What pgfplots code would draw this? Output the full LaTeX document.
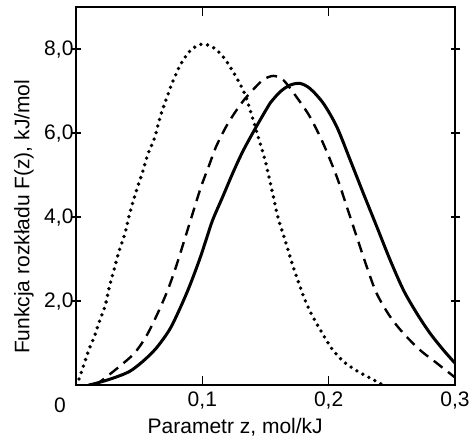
\documentclass[border=0pt]{standalone}
\usepackage{fontspec}
\setmainfont{Liberation Sans}
\usepackage{pgfplots}
\pgfplotsset{compat=1.18}
\begin{document}
\begin{tikzpicture}
\begin{axis}[
  scale only axis,
  width=189.5pt, height=189pt,
  xmin=0, xmax=0.3, ymin=0, ymax=9,
  axis line style={line width=0.7pt},
  xtick={0.1,0.2,0.3},
  ytick={2,4,6,8},
  xtick align=inside,
  ytick align=center,
  major tick length=4.5pt,
  tick style={line width=0.6pt,black},
  xticklabel style={/pgf/number format/.cd,fixed,fixed zerofill,precision=1,use comma},
  yticklabel style={xshift=4.5pt,/pgf/number format/.cd,fixed,fixed zerofill,precision=1,use comma},
  /pgf/number format/assume math mode=true,
  font=\fontsize{10.5pt}{12pt}\selectfont,
  xlabel={Parametr z, mol/kJ},
  ylabel={Funkcja rozkładu F(z), kJ/mol},
  xlabel style={at={(axis description cs:0.42,0)}, anchor=north, yshift=-13pt},
  ylabel style={at={(axis description cs:0,0.445)}, anchor=center, rotate=0, yshift=26pt},
  tick label style={font=\fontsize{10.5pt}{12pt}\selectfont},
]
\addplot[black, line width=1.5pt, smooth, tension=0.5] coordinates {
(0.01,0) (0.0158,0.04) (0.029,0.16) (0.0422,0.32) (0.0528,0.56) (0.0633,0.87)
(0.0739,1.31) (0.0818,1.79) (0.0897,2.34) (0.0977,2.98) (0.1029,3.45) (0.1082,3.93)
(0.1161,4.48) (0.124,5.04) (0.132,5.56) (0.1412,6.07) (0.1504,6.55) (0.1536,6.71)
(0.1615,6.98) (0.1694,7.14) (0.1773,7.18) (0.1852,7.06) (0.1957,6.71) (0.2064,6.15)
(0.217,5.36) (0.2275,4.56) (0.2381,3.77) (0.2486,2.98) (0.2592,2.26) (0.2697,1.71)
(0.2803,1.23) (0.2909,0.83) (0.3,0.52)
};
\addplot[black, line width=1.2pt, smooth, tension=0.5, dash pattern=on 5.5pt off 3.5pt] coordinates {
(0.015,0) (0.021,0.12) (0.0343,0.44) (0.046,0.75) (0.0554,1.15) (0.0647,1.71)
(0.0726,2.26) (0.0792,2.82) (0.0858,3.45) (0.0924,4.09) (0.099,4.72) (0.1056,5.25)
(0.1108,5.67) (0.1188,6.15) (0.1254,6.47) (0.132,6.75) (0.1386,6.98) (0.1478,7.26)
(0.1562,7.36) (0.1641,7.26) (0.1745,6.86) (0.1851,6.39) (0.1957,5.75) (0.2064,4.96)
(0.2143,4.25) (0.2222,3.53) (0.2301,2.82) (0.238,2.18) (0.2486,1.63) (0.2592,1.23)
(0.2724,0.83) (0.2856,0.52) (0.3,0.18)
};
\addplot[black, line width=1.9pt, smooth, tension=0.5, line cap=round, dash pattern=on 0pt off 3.4pt] coordinates {
(0,0) (0.0026,0.16) (0.0066,0.52) (0.0106,0.87) (0.0145,1.15) (0.0185,1.51)
(0.0232,1.90) (0.0264,2.34) (0.0304,2.78) (0.0343,3.21) (0.0388,3.61) (0.0422,4.05)
(0.0475,4.60) (0.0528,5.08) (0.0567,5.48) (0.062,5.87) (0.0673,6.45) (0.0726,6.90)
(0.0765,7.22) (0.0831,7.65) (0.091,7.98) (0.1003,8.12) (0.1095,8.02) (0.1174,7.78)
(0.1267,7.34) (0.1333,6.95) (0.137,6.63) (0.1438,5.95) (0.1496,5.36) (0.155,4.65)
(0.160,3.98) (0.1655,3.45) (0.1708,2.92) (0.176,2.46) (0.1813,2.02) (0.1879,1.60)
(0.1958,1.19) (0.2024,0.87) (0.2117,0.56) (0.2222,0.34) (0.2381,0.08) (0.243,0)
};
\coordinate (O) at (rel axis cs:0,0);
\end{axis}
\node[anchor=north, font=\fontsize{10.5pt}{12pt}\selectfont, inner sep=0pt] at ([xshift=-8pt,yshift=-6pt]O) {0};
\pgfresetboundingbox
\path (O) ++(-38pt,-30.5pt) rectangle ++(237.5pt,223pt);
\end{tikzpicture}
\end{document}
